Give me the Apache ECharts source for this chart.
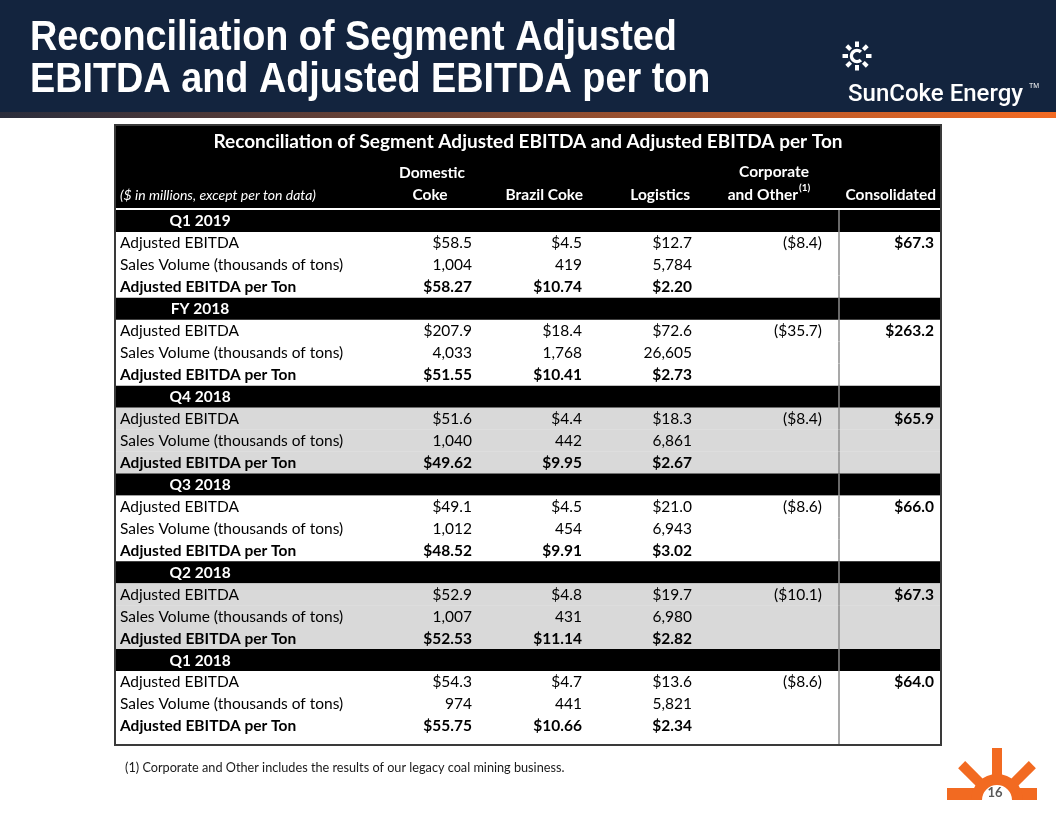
<!DOCTYPE html>
<html><head><meta charset="utf-8">
<script src="https://cdn.jsdelivr.net/npm/echarts@6.0.0/dist/echarts.min.js"></script>
<style>html,body{margin:0;padding:0;background:#fff}#c{width:1056px;height:816px}</style>
</head><body><div id="c"></div>
<script>
// ---------- data ----------
const periods = ['Q1 2019', 'FY 2018', 'Q4 2018', 'Q3 2018', 'Q2 2018', 'Q1 2018'];
const metricLabels = ['Adjusted EBITDA', 'Sales Volume (thousands of tons)', 'Adjusted EBITDA per Ton'];
const domesticCokeEbitda = [58.5, 207.9, 51.6, 49.1, 52.9, 54.3];
const brazilCokeEbitda = [4.5, 18.4, 4.4, 4.5, 4.8, 4.7];
const logisticsEbitda = [12.7, 72.6, 18.3, 21.0, 19.7, 13.6];
const corporateEbitda = [-8.4, -35.7, -8.4, -8.6, -10.1, -8.6];
const consolidatedEbitda = [67.3, 263.2, 65.9, 66.0, 67.3, 64.0];
const domesticCokeVolume = [1004, 4033, 1040, 1012, 1007, 974];
const brazilCokeVolume = [419, 1768, 442, 454, 431, 441];
const logisticsVolume = [5784, 26605, 6861, 6943, 6980, 5821];
const domesticCokePerTon = [58.27, 51.55, 49.62, 48.52, 52.53, 55.75];
const brazilCokePerTon = [10.74, 10.41, 9.95, 9.91, 11.14, 10.66];
const logisticsPerTon = [2.20, 2.73, 2.67, 3.02, 2.82, 2.34];
const tableTitle = 'Reconciliation of Segment Adjusted EBITDA and Adjusted EBITDA per Ton';
const unitNote = '($ in millions, except per ton data)';
const footnote = '(1) Corporate and Other includes the results of our legacy coal mining business.';
const slideTitle = ['Reconciliation of Segment Adjusted', 'EBITDA and Adjusted EBITDA per ton'];
const pageNumber = '16';

// ---------- layout ----------
const TL = 115, TR = 941, HEAD_TOP = 125, HEAD_BOT = 208, BODY_TOP = 210, BODY_BOT = 745;
const SEP_X = 839;
const COL_RIGHT = [472, 582, 692, 822, 934];
const LABEL_X = 120, BAND_X = 200;
const shadedPeriodIdx = [2, 4];
const FONT = 'Lato, "Open Sans", sans-serif';
const FS = 15.5;

const fmtMoney1 = v => v < 0 ? '($' + Math.abs(v).toFixed(1) + ')' : '$' + v.toFixed(1);
const fmtVol = v => v.toLocaleString('en-US');
const fmtMoney2 = v => '$' + v.toFixed(2);

// build rows
const rows = [];
periods.forEach((p, k) => {
  const shaded = shadedPeriodIdx.includes(k);
  rows.push({ band: true, label: p });
  rows.push({ label: metricLabels[0], shaded, cells: [fmtMoney1(domesticCokeEbitda[k]), fmtMoney1(brazilCokeEbitda[k]), fmtMoney1(logisticsEbitda[k]), fmtMoney1(corporateEbitda[k]), fmtMoney1(consolidatedEbitda[k])] });
  rows.push({ label: metricLabels[1], shaded, cells: [fmtVol(domesticCokeVolume[k]), fmtVol(brazilCokeVolume[k]), fmtVol(logisticsVolume[k]), '', ''] });
  rows.push({ label: metricLabels[2], shaded, bold: true, cells: [fmtMoney2(domesticCokePerTon[k]), fmtMoney2(brazilCokePerTon[k]), fmtMoney2(logisticsPerTon[k]), '', ''] });
});
const LAST = rows.length - 1;
const Y_MAX = LAST + 0.87;

const cells = [];
rows.forEach((r, i) => {
  if (r.band) {
    cells.push({ x: BAND_X, row: i, text: r.label, bold: true, color: '#fff', align: 'center' });
  } else {
    cells.push({ x: LABEL_X, row: i, text: r.label, bold: !!r.bold, color: '#000', align: 'left' });
    r.cells.forEach((t, c) => {
      if (t) cells.push({ x: COL_RIGHT[c], row: i, text: t, bold: !!r.bold || c === 4, color: '#000', align: 'right' });
    });
  }
});

const chart = echarts.init(document.getElementById('c'), null, { renderer: 'canvas' });

const headerFont = (w, s) => ({ fontFamily: FONT, fontWeight: w, fontSize: s });
const ORANGE = '#f26a21';

const option = {
  animation: false,
  backgroundColor: '#fff',
  grid: { left: TL, right: 1056 - TR, top: BODY_TOP, bottom: 816 - BODY_BOT },
  xAxis: { type: 'value', min: TL, max: TR, show: false },
  yAxis: { type: 'value', min: -0.5, max: Y_MAX, inverse: true, show: false },
  series: [
    {
      type: 'custom', silent: true, z: 1,
      data: rows.map((r, i) => [TL, i]),
      renderItem(params, api) {
        const i = api.value(1);
        const r = rows[i];
        const top = api.coord([TL, i - 0.5]);
        const bot = api.coord([TR, i === LAST ? Y_MAX : i + 0.5]);
        const botRow = api.coord([TR, i + 0.5]);
        const fill = r.band ? '#000' : (r.shaded ? '#d9d9d9' : '#fff');
        const sx = api.coord([SEP_X, i])[0];
        return { type: 'group', children: [
          { type: 'rect', shape: { x: top[0], y: top[1], width: bot[0] - top[0], height: botRow[1] - top[1] + 0.3 }, style: { fill } },
          { type: 'line', shape: { x1: sx, y1: top[1], x2: sx, y2: bot[1] }, style: { stroke: '#8c8c8c', lineWidth: 1.5 } }
        ]};
      }
    },
    {
      type: 'custom', silent: true, z: 2,
      data: cells.map(c => [c.x, c.row]),
      renderItem(params, api) {
        const c = cells[params.dataIndex];
        const p = api.coord([api.value(0), api.value(1)]);
        return { type: 'text', x: p[0], y: p[1] + 0.5, style: {
          text: c.text, fill: c.color, align: c.align, verticalAlign: 'middle',
          fontFamily: FONT, fontSize: FS, fontWeight: c.bold ? 'bold' : 'normal' } };
      }
    }
  ],
  graphic: [
    // slide header
    { type: 'rect', shape: { x: 0, y: 0, width: 1056, height: 113 }, style: { fill: '#13243e' }, z: 0 },
    { type: 'rect', shape: { x: 0, y: 112, width: 1056, height: 6 }, z: 0,
      style: { fill: new echarts.graphic.LinearGradient(0, 0, 1, 0, [
        { offset: 0, color: '#2a2d3c' }, { offset: 0.45, color: '#7a4733' }, { offset: 1, color: '#f36a22' }]) } },
    { type: 'text', x: 30, y: 38, scaleX: 0.9, z: 5, style: { text: slideTitle[0], fill: '#fff', fontFamily: '"Liberation Sans", Arial, sans-serif', fontWeight: 'bold', fontSize: 42, verticalAlign: 'middle' } },
    { type: 'text', x: 30, y: 80, scaleX: 0.9, z: 5, style: { text: slideTitle[1], fill: '#fff', fontFamily: '"Liberation Sans", Arial, sans-serif', fontWeight: 'bold', fontSize: 42, verticalAlign: 'middle' } },
    // logo
    { type: 'group', x: 857, y: 56, z: 5, children: [
      { type: 'arc', shape: { cx: 0, cy: 0, r: 5.5, startAngle: Math.PI * 0.25, endAngle: Math.PI * 1.75, clockwise: true }, style: { stroke: '#fff', lineWidth: 3.5, fill: null } },
      ...[0, 1, 2, 3, 4, 5, 6, 7].map(k => {
        const a = k * Math.PI / 4;
        return { type: 'line', shape: { x1: Math.cos(a) * 9, y1: Math.sin(a) * 9, x2: Math.cos(a) * 14.5, y2: Math.sin(a) * 14.5 }, style: { stroke: '#fff', lineWidth: 4 } };
      })
    ]},
    { type: 'text', x: 848, y: 95, z: 5, style: { text: 'SunCoke Energy', fill: '#fff', fontFamily: 'Roboto, "Liberation Sans", sans-serif', fontWeight: 500, fontSize: 24, verticalAlign: 'middle' } },
    { type: 'text', x: 1029, y: 86, z: 5, style: { text: 'TM', fill: '#fff', fontFamily: '"Liberation Sans", Arial, sans-serif', fontSize: 7, verticalAlign: 'middle' } },
    // table header
    { type: 'rect', shape: { x: TL, y: HEAD_TOP, width: TR - TL, height: HEAD_BOT - HEAD_TOP }, style: { fill: '#000' }, z: 0 },
    { type: 'text', x: (TL + TR) / 2, y: 142, z: 5, style: { text: tableTitle, fill: '#fff', align: 'center', verticalAlign: 'middle', ...headerFont('bold', 19) } },
    { type: 'text', x: LABEL_X, y: 195, z: 5, style: { text: unitNote, fill: '#fff', align: 'left', verticalAlign: 'middle', fontFamily: FONT, fontStyle: 'italic', fontSize: 14 } },
    { type: 'text', x: 432, y: 173, z: 5, style: { text: 'Domestic', fill: '#fff', align: 'center', verticalAlign: 'middle', ...headerFont('bold', FS) } },
    { type: 'text', x: 430, y: 195, z: 5, style: { text: 'Coke', fill: '#fff', align: 'center', verticalAlign: 'middle', ...headerFont('bold', FS) } },
    { type: 'text', x: 583, y: 195, z: 5, style: { text: 'Brazil Coke', fill: '#fff', align: 'right', verticalAlign: 'middle', ...headerFont('bold', FS) } },
    { type: 'text', x: 690, y: 195, z: 5, style: { text: 'Logistics', fill: '#fff', align: 'right', verticalAlign: 'middle', ...headerFont('bold', FS) } },
    { type: 'text', x: 774, y: 172, z: 5, style: { text: 'Corporate', fill: '#fff', align: 'center', verticalAlign: 'middle', ...headerFont('bold', FS) } },
    { type: 'text', x: 798, y: 195, z: 5, style: { text: 'and Other', fill: '#fff', align: 'right', verticalAlign: 'middle', ...headerFont('bold', FS) } },
    { type: 'text', x: 799, y: 188, z: 5, style: { text: '(1)', fill: '#fff', align: 'left', verticalAlign: 'middle', ...headerFont('bold', 10) } },
    { type: 'text', x: 936, y: 195, z: 5, style: { text: 'Consolidated', fill: '#fff', align: 'right', verticalAlign: 'middle', ...headerFont('bold', FS) } },
    // outer border
    { type: 'rect', shape: { x: TL, y: HEAD_TOP, width: TR - TL, height: BODY_BOT - HEAD_TOP }, style: { fill: null, stroke: '#3a3a3a', lineWidth: 2 }, z: 10 },
    // footnote
    { type: 'text', x: 125, y: 768, z: 5, style: { text: footnote, fill: '#1a1a1a', align: 'left', verticalAlign: 'middle', fontFamily: FONT, fontSize: 12.7 } },
    // bottom-right sun
    { type: 'group', x: 997, y: 800, z: 5, children: [
      { type: 'rect', shape: { x: -50, y: -12, width: 30, height: 12 }, style: { fill: ORANGE } },
      { type: 'rect', shape: { x: 20, y: -12, width: 20, height: 12 }, style: { fill: ORANGE } },
      { type: 'sector', shape: { cx: 0, cy: 0, r: 26, r0: 15, startAngle: Math.PI, endAngle: Math.PI * 2 }, style: { fill: ORANGE } },
      { type: 'rect', shape: { x: -5, y: -52, width: 10, height: 28 }, style: { fill: ORANGE } },
      { type: 'rect', shape: { x: -5, y: -50, width: 10, height: 26 }, rotation: Math.PI / 4, originX: 0, originY: 0, style: { fill: ORANGE } },
      { type: 'rect', shape: { x: -5, y: -50, width: 10, height: 26 }, rotation: -Math.PI / 4, originX: 0, originY: 0, style: { fill: ORANGE } },
      { type: 'text', x: -2, y: -7, style: { text: pageNumber, fill: '#595959', align: 'center', verticalAlign: 'middle', fontFamily: FONT, fontWeight: 'bold', fontSize: 13 } }
    ]}
  ]
};
chart.setOption(option);
</script>
</body></html>
